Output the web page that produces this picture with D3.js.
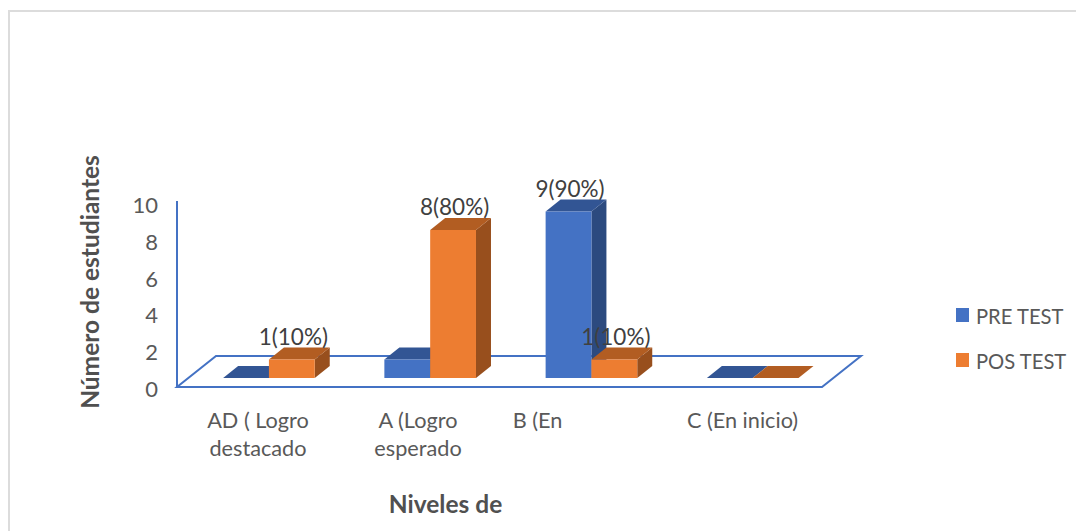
<!DOCTYPE html>
<html>
<head>
<meta charset="utf-8">
<script src="https://cdn.jsdelivr.net/npm/d3@7"></script>
<style>
  html, body { margin: 0; padding: 0; background: #fff; }
  text { font-family: Lato, "Open Sans", sans-serif; }
</style>
</head>
<body>
<div id="chart"></div>
<script>
const categories = ["AD", "A", "B", "C"];
const categoryLines = [["AD ( Logro", "destacado"], ["A (Logro", "esperado"], ["B (En"], ["C (En inicio)"]];
const series = ["PRE TEST", "POS TEST"];
const preTest = [0, 1, 9, 0];
const posTest = [1, 8, 1, 0];
const preLabels = ["", "", "9(90%)", ""];
const posLabels = ["1(10%)", "8(80%)", "1(10%)", ""];
const yTicks = [0, 2, 4, 6, 8, 10];

const WIDTH = 1076, HEIGHT = 531;
const DEPTH_X = 15, DEPTH_Y = 12;

const svg = d3.select("#chart").append("svg")
    .attr("width", WIDTH)
    .attr("height", HEIGHT)
    .style("display", "block");

// frame of the original picture
svg.append("path")
    .attr("d", "M9,531V11H1076")
    .attr("fill", "none")
    .attr("stroke", "#dcdcdc")
    .attr("stroke-width", 2);

// bars stand on a line inside the floor, the axis labels sit on its front edge
const x0 = d3.scaleBand().domain(categories).range([188.3, 833.3]);
const x1 = d3.scaleBand().domain(series).range([0, x0.bandwidth()]).paddingOuter(0.76);
const y = d3.scaleLinear().domain([0, 10]).range([378, 193]);
const yAxisScale = d3.scaleLinear().domain([0, 10]).range([389.5, 205.5]);

const colors = d3.scaleOrdinal().domain(series).range(["#4472c4", "#ed7d31"]);
const topColors = d3.scaleOrdinal().domain(series).range(["#325594", "#b25d22"]);
const sideColors = d3.scaleOrdinal().domain(series).range(["#2c4a7f", "#984f1d"]);

// floor and wall
const blue = "#4472c4";
svg.append("path")
    .attr("d", "M216,356H861L822,387H177Z")
    .attr("fill", "none")
    .attr("stroke", blue)
    .attr("stroke-width", 2);
svg.append("line")
    .attr("x1", 177).attr("x2", 177)
    .attr("y1", 201).attr("y2", 387)
    .attr("stroke", blue)
    .attr("stroke-width", 2);

const bars = [];
series.forEach((s, si) => {
    const values = si === 0 ? preTest : posTest;
    const labels = si === 0 ? preLabels : posLabels;
    categories.forEach((c, i) => bars.push({ s, c, value: values[i], label: labels[i] }));
});

const bar = svg.append("g").selectAll("g")
    .data(bars)
    .join("g");

bar.append("path")
    .attr("fill", d => sideColors(d.s))
    .attr("d", d => {
        const right = x0(d.c) + x1(d.s) + x1.bandwidth();
        return `M${right},${y(d.value)}l${DEPTH_X},${-DEPTH_Y}V${y(0) - DEPTH_Y}l${-DEPTH_X},${DEPTH_Y}Z`;
    });
bar.append("path")
    .attr("fill", d => topColors(d.s))
    .attr("d", d => {
        const left = x0(d.c) + x1(d.s);
        return `M${left},${y(d.value)}l${DEPTH_X},${-DEPTH_Y}h${x1.bandwidth()}l${-DEPTH_X},${DEPTH_Y}Z`;
    });
bar.append("rect")
    .attr("x", d => x0(d.c) + x1(d.s))
    .attr("y", d => y(d.value))
    .attr("width", x1.bandwidth())
    .attr("height", d => y(0) - y(d.value))
    .attr("fill", d => colors(d.s));

// data labels on top so the 1(10%) of B stays over the blue bar
svg.append("g").selectAll("text")
    .data(bars.filter(d => d.label))
    .join("text")
    .attr("x", d => x0(d.c) + x1(d.s) + x1.bandwidth() / 2 + 1.5)
    .attr("y", d => y(d.value) - 15)
    .attr("text-anchor", "middle")
    .attr("font-size", 22.5)
    .attr("fill", "#404040")
    .text(d => d.label);

// y axis
const yAxis = svg.append("g")
    .attr("transform", "translate(177,0)")
    .call(d3.axisLeft(yAxisScale).tickValues(yTicks).tickSize(0).tickPadding(19));
yAxis.select(".domain").remove();
yAxis.selectAll("text")
    .attr("font-size", 22)
    .attr("fill", "#595959")
    .style("font-family", "Lato, sans-serif");

// category labels
const catLabel = svg.append("g").selectAll("text")
    .data(categories)
    .join("text")
    .attr("text-anchor", "middle")
    .attr("font-size", 21.7)
    .attr("fill", "#595959")
    .attr("x", (d, i) => [258, 418, 537.5, 742.5][i])
    .attr("y", 428);
catLabel.selectAll("tspan")
    .data((d, i) => categoryLines[i])
    .join("tspan")
    .attr("x", function() { return this.parentNode.getAttribute("x"); })
    .attr("dy", (d, i) => i === 0 ? 0 : 28)
    .text(d => d);

// axis titles
svg.append("text")
    .attr("transform", "translate(99,282) rotate(-90)")
    .attr("text-anchor", "middle")
    .attr("font-size", 24.5)
    .attr("font-weight", 700)
    .attr("fill", "#505050")
    .text("Número de estudiantes");
svg.append("text")
    .attr("x", 445.5)
    .attr("y", 513)
    .attr("text-anchor", "middle")
    .attr("font-size", 24.5)
    .attr("font-weight", 700)
    .attr("fill", "#505050")
    .text("Niveles de");

// legend
const legend = svg.append("g").selectAll("g")
    .data(series)
    .join("g")
    .attr("transform", (d, i) => `translate(956,${308 + i * 45})`);
legend.append("rect")
    .attr("width", 13)
    .attr("height", 14)
    .attr("fill", d => colors(d));
legend.append("text")
    .attr("x", 20)
    .attr("y", 15.5)
    .attr("font-size", 20.2)
    .attr("fill", "#595959")
    .text(d => d);
</script>
</body>
</html>
